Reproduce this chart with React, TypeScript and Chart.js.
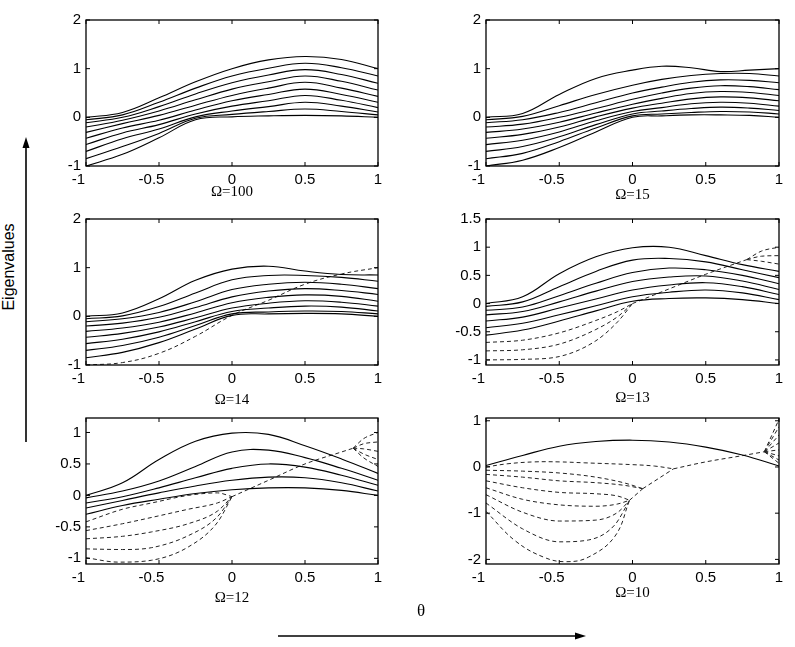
import React, { useEffect, useRef } from "react";
import { Chart, registerables } from "chart.js";

Chart.register(...registerables);

type Pt = [number, number];

// ---------- data ----------
const THETA = [-1, -0.75, -0.5, -0.25, 0, 0.25, 0.5, 0.75, 1];
const THETA_15 = [-1, -0.75, -0.5, -0.25, 0, 0.2, 0.4, 0.6, 0.8, 1];
const X_TICKS = [-1, -0.5, 0, 0.5, 1];
const Y_TICKS_WIDE = [-1, 0, 1, 2];
const Y_TICKS_13 = [-1, -0.5, 0, 0.5, 1, 1.5];
const Y_TICKS_12 = [-1, -0.5, 0, 0.5, 1];
const Y_TICKS_10 = [-2, -1, 0, 1];

// Omega = 100 (all solid, on THETA)
const SOLID_100 = [
  [0, 0.1, 0.4, 0.73, 1.0, 1.18, 1.25, 1.19, 1.0],
  [-0.05, 0.05, 0.31, 0.6, 0.85, 1.01, 1.11, 1.02, 0.85],
  [-0.11, 0.0, 0.22, 0.48, 0.71, 0.87, 0.98, 0.88, 0.7],
  [-0.2, -0.06, 0.13, 0.36, 0.58, 0.73, 0.85, 0.74, 0.56],
  [-0.31, -0.13, 0.04, 0.25, 0.45, 0.6, 0.72, 0.6, 0.43],
  [-0.43, -0.22, -0.06, 0.15, 0.34, 0.47, 0.58, 0.47, 0.31],
  [-0.56, -0.32, -0.15, 0.07, 0.23, 0.34, 0.45, 0.35, 0.2],
  [-0.7, -0.44, -0.24, 0.01, 0.13, 0.22, 0.31, 0.23, 0.11],
  [-0.85, -0.6, -0.33, -0.02, 0.06, 0.12, 0.17, 0.12, 0.05],
  [-1.0, -0.76, -0.42, -0.05, 0.01, 0.03, 0.04, 0.03, 0.0],
];

// Omega = 15 (all solid, on THETA_15)
const SOLID_15 = [
  [0, 0.08, 0.47, 0.8, 0.97, 1.05, 1.02, 0.94, 0.97, 1.0],
  [-0.05, 0.02, 0.24, 0.47, 0.66, 0.78, 0.86, 0.9, 0.9, 0.85],
  [-0.11, -0.05, 0.1, 0.3, 0.5, 0.62, 0.72, 0.77, 0.76, 0.71],
  [-0.2, -0.14, 0.0, 0.18, 0.37, 0.5, 0.6, 0.65, 0.63, 0.57],
  [-0.31, -0.24, -0.1, 0.09, 0.27, 0.39, 0.49, 0.53, 0.51, 0.45],
  [-0.43, -0.35, -0.2, 0.01, 0.19, 0.29, 0.38, 0.42, 0.4, 0.34],
  [-0.56, -0.47, -0.3, -0.07, 0.12, 0.2, 0.28, 0.31, 0.29, 0.23],
  [-0.7, -0.6, -0.4, -0.15, 0.07, 0.13, 0.18, 0.21, 0.19, 0.14],
  [-0.85, -0.74, -0.5, -0.22, 0.03, 0.07, 0.1, 0.12, 0.11, 0.07],
  [-1.0, -0.88, -0.62, -0.3, 0.0, 0.03, 0.05, 0.05, 0.04, 0.0],
];

// Omega = 14 (solid on THETA, one dashed branch)
const SOLID_14 = [
  [0, 0.07, 0.36, 0.74, 0.97, 1.03, 0.93, 0.86, 0.85],
  [-0.05, 0.01, 0.2, 0.48, 0.75, 0.84, 0.84, 0.8, 0.72],
  [-0.11, -0.05, 0.08, 0.3, 0.55, 0.66, 0.7, 0.66, 0.57],
  [-0.2, -0.14, -0.02, 0.18, 0.4, 0.52, 0.57, 0.53, 0.45],
  [-0.31, -0.24, -0.12, 0.07, 0.28, 0.39, 0.44, 0.41, 0.31],
  [-0.43, -0.35, -0.22, -0.03, 0.17, 0.27, 0.32, 0.29, 0.21],
  [-0.56, -0.47, -0.32, -0.11, 0.1, 0.17, 0.21, 0.19, 0.11],
  [-0.7, -0.6, -0.43, -0.19, 0.05, 0.09, 0.11, 0.1, 0.05],
  [-0.85, -0.74, -0.54, -0.26, 0.02, 0.05, 0.06, 0.05, 0.0],
];
const DASHED_14: Pt[][] = [
  [[-1, -1.0], [-0.75, -0.95], [-0.5, -0.76], [-0.25, -0.41], [0, 0.02], [0.25, 0.33], [0.5, 0.66], [0.75, 0.87], [1, 1.0]],
];

// Omega = 13
const SOLID_13 = [
  [0, 0.12, 0.53, 0.83, 0.99, 1.0, 0.85, 0.69, 0.57],
  [-0.05, 0.03, 0.3, 0.57, 0.77, 0.8, 0.74, 0.6, 0.46],
  [-0.12, -0.06, 0.14, 0.36, 0.55, 0.63, 0.6, 0.5, 0.35],
  [-0.2, -0.14, 0.03, 0.22, 0.39, 0.47, 0.49, 0.4, 0.25],
  [-0.31, -0.24, -0.08, 0.08, 0.24, 0.33, 0.37, 0.3, 0.16],
  [-0.43, -0.35, -0.2, -0.04, 0.12, 0.2, 0.24, 0.19, 0.07],
  [-0.56, -0.47, -0.31, -0.13, 0.04, 0.09, 0.1, 0.07, 0.0],
];
const DASHED_13: Pt[][] = [
  [[-1, -0.69], [-0.75, -0.65], [-0.5, -0.52], [-0.25, -0.3], [-0.1, -0.14], [0, 0.0]],
  [[-1, -0.84], [-0.75, -0.82], [-0.5, -0.72], [-0.25, -0.46], [-0.1, -0.23], [0, 0.0]],
  [[-1, -1.0], [-0.75, -0.99], [-0.5, -0.94], [-0.25, -0.66], [-0.1, -0.32], [0, 0.0]],
  [[0, 0.0], [0.25, 0.26], [0.5, 0.52], [0.78, 0.78]],
  [[0.78, 0.78], [0.88, 0.93], [1, 1.0]],
  [[0.78, 0.78], [0.88, 0.84], [1, 0.85]],
  [[0.78, 0.78], [0.88, 0.75], [1, 0.7]],
];

// Omega = 12
const SOLID_12 = [
  [0, 0.2, 0.57, 0.86, 0.99, 0.97, 0.79, 0.58, 0.35],
  [-0.04, 0.07, 0.23, 0.46, 0.69, 0.72, 0.6, 0.43, 0.24],
  [-0.12, -0.02, 0.12, 0.28, 0.43, 0.5, 0.45, 0.32, 0.16],
  [-0.2, -0.08, 0.04, 0.15, 0.24, 0.29, 0.28, 0.2, 0.07],
  [-0.3, -0.16, -0.06, 0.03, 0.09, 0.12, 0.12, 0.08, 0.0],
];
const DASHED_12: Pt[][] = [
  [[-1, -0.42], [-0.75, -0.22], [-0.55, -0.12], [-0.3, 0.0], [-0.1, 0.04], [0, -0.02]],
  [[-1, -0.56], [-0.75, -0.45], [-0.55, -0.35], [-0.3, -0.22], [-0.1, -0.12], [0, -0.02]],
  [[-1, -0.69], [-0.75, -0.65], [-0.55, -0.58], [-0.3, -0.45], [-0.1, -0.25], [0, -0.02]],
  [[-1, -0.85], [-0.75, -0.86], [-0.55, -0.83], [-0.3, -0.64], [-0.1, -0.34], [0, -0.02]],
  [[-1, -0.99], [-0.78, -1.06], [-0.55, -1.03], [-0.3, -0.82], [-0.1, -0.43], [0, -0.02]],
  [[0, -0.02], [0.25, 0.24], [0.5, 0.5], [0.75, 0.69], [0.83, 0.75]],
  [[0.83, 0.75], [0.9, 0.9], [1, 1.0]],
  [[0.83, 0.75], [0.9, 0.82], [1, 0.85]],
  [[0.83, 0.75], [0.9, 0.74], [1, 0.7]],
  [[0.83, 0.75], [0.9, 0.66], [1, 0.57]],
  [[0.83, 0.75], [0.9, 0.6], [1, 0.46]],
];

// Omega = 10
const SOLID_10 = [
  [0.03, 0.25, 0.45, 0.55, 0.58, 0.54, 0.43, 0.26, 0.02],
];
const DASHED_10: Pt[][] = [
  [[-1, 0.0], [-0.85, 0.07], [-0.67, 0.11], [-0.5, 0.11], [-0.33, 0.09], [0, 0.05], [0.15, 0.02], [0.28, -0.04]],
  [[-1, -0.07], [-0.75, -0.09], [-0.5, -0.13], [-0.25, -0.22], [-0.05, -0.35], [0.07, -0.47]],
  [[-1, -0.16], [-0.75, -0.22], [-0.5, -0.3], [-0.25, -0.34], [-0.05, -0.4], [0.07, -0.47]],
  [[-1, -0.3], [-0.75, -0.45], [-0.5, -0.55], [-0.25, -0.58], [-0.1, -0.63], [-0.02, -0.72]],
  [[-1, -0.45], [-0.75, -0.7], [-0.5, -0.82], [-0.25, -0.85], [-0.1, -0.8], [-0.02, -0.72]],
  [[-1, -0.6], [-0.75, -0.98], [-0.5, -1.17], [-0.25, -1.15], [-0.1, -0.98], [-0.02, -0.72]],
  [[-1, -0.78], [-0.75, -1.34], [-0.5, -1.62], [-0.3, -1.58], [-0.12, -1.25], [-0.02, -0.72]],
  [[-1, -0.96], [-0.8, -1.6], [-0.6, -1.96], [-0.45, -2.05], [-0.3, -1.95], [-0.12, -1.5], [-0.02, -0.72]],
  [[-0.02, -0.72], [0.07, -0.47]],
  [[0.07, -0.47], [0.28, -0.04]],
  [[0.28, -0.04], [0.5, 0.11], [0.74, 0.24], [0.9, 0.33]],
  [[0.9, 0.33], [1, 1.03]],
  [[0.9, 0.33], [1, 0.87]],
  [[0.9, 0.33], [1, 0.69]],
  [[0.9, 0.33], [1, 0.52]],
  [[0.9, 0.33], [1, 0.37]],
  [[0.9, 0.33], [1, 0.24]],
  [[0.9, 0.33], [1, 0.15]],
  [[0.9, 0.33], [1, 0.08]],
];

const TITLES = ["Ω=100", "Ω=15", "Ω=14", "Ω=13", "Ω=12", "Ω=10"];

// ---------- panel definitions ----------
type Panel = {
  title: string;
  theta: number[];
  solid: number[][];
  dashed: Pt[][];
  yMin: number;
  yMax: number;
  yTicks: number[];
};

const PANELS: Panel[] = [
  { title: TITLES[0], theta: THETA, solid: SOLID_100, dashed: [], yMin: -1, yMax: 2, yTicks: Y_TICKS_WIDE },
  { title: TITLES[1], theta: THETA_15, solid: SOLID_15, dashed: [], yMin: -1, yMax: 2, yTicks: Y_TICKS_WIDE },
  { title: TITLES[2], theta: THETA, solid: SOLID_14, dashed: DASHED_14, yMin: -1, yMax: 2, yTicks: Y_TICKS_WIDE },
  { title: TITLES[3], theta: THETA, solid: SOLID_13, dashed: DASHED_13, yMin: -1.09, yMax: 1.5, yTicks: Y_TICKS_13 },
  { title: TITLES[4], theta: THETA, solid: SOLID_12, dashed: DASHED_12, yMin: -1.09, yMax: 1.23, yTicks: Y_TICKS_12 },
  { title: TITLES[5], theta: THETA, solid: SOLID_10, dashed: DASHED_10, yMin: -2.1, yMax: 1.06, yTicks: Y_TICKS_10 },
];

// frame boxes (plot-area) in page pixels
const LAYOUT = [
  { l: 86, t: 16, r: 378, b: 166, titleY: 191 },
  { l: 486, t: 16, r: 779, b: 166, titleY: 194 },
  { l: 86, t: 215, r: 378, b: 365, titleY: 399 },
  { l: 486, t: 215, r: 779, b: 365, titleY: 397 },
  { l: 86, t: 414, r: 378, b: 564, titleY: 597 },
  { l: 486, t: 414, r: 779, b: 564, titleY: 592 },
];

const AX_W = 44;
const AX_H = 30;
const PAD_T = 10;
const PAD_R = 14;
const SANS = '"Liberation Sans", Arial, Helvetica, sans-serif';
const SERIF = '"Liberation Serif", "Times New Roman", Times, serif';

const fmt = (v: number) => String(Math.round(v * 100) / 100);
// MATLAB-style: negative x labels sit slightly left of their tick
const fmtX = (v: number) => (v < 0 ? fmt(v) + "\u2003" : fmt(v));

const framePlugin = {
  id: "matlabFrame",
  afterDatasetsDraw(chart: any) {
    const { ctx, chartArea: a, scales } = chart;
    const x = scales.x;
    const y = scales.y;
    ctx.save();
    ctx.strokeStyle = "#000";
    ctx.lineWidth = 1.3;
    ctx.strokeRect(a.left, a.top, a.right - a.left, a.bottom - a.top);
    const tl = 4;
    ctx.lineWidth = 1;
    ctx.beginPath();
    x.ticks.forEach((t: any) => {
      const px = x.getPixelForValue(t.value);
      ctx.moveTo(px, a.bottom);
      ctx.lineTo(px, a.bottom - tl);
      ctx.moveTo(px, a.top);
      ctx.lineTo(px, a.top + tl);
    });
    y.ticks.forEach((t: any) => {
      const py = y.getPixelForValue(t.value);
      ctx.moveTo(a.left, py);
      ctx.lineTo(a.left + tl, py);
      ctx.moveTo(a.right, py);
      ctx.lineTo(a.right - tl, py);
    });
    ctx.stroke();
    ctx.restore();
  },
};

function PanelChart({ p, box }: { p: Panel; box: { l: number; t: number; r: number; b: number } }) {
  const ref = useRef<HTMLCanvasElement>(null);
  const w = box.r - box.l + AX_W + PAD_R;
  const h = box.b - box.t + PAD_T + AX_H;

  useEffect(() => {
    if (!ref.current) return;
    const datasets: any[] = [];
    p.solid.forEach((curve) => {
      datasets.push({
        data: curve.map((v, i) => ({ x: p.theta[i], y: v })),
        showLine: true,
        borderColor: "#000",
        borderWidth: 1.1,
        pointRadius: 0,
        fill: false,
        tension: 0.4,
      });
    });
    p.dashed.forEach((seg) => {
      const full = seg.length > 6;
      datasets.push({
        data: seg.map(([x, y]) => ({ x, y })),
        showLine: true,
        borderColor: "#222",
        borderWidth: 1,
        borderDash: [4, 3],
        pointRadius: 0,
        fill: false,
        ...(full ? { tension: 0.4 } : { cubicInterpolationMode: "monotone" }),
      });
    });

    const chart = new Chart(ref.current, {
      type: "scatter",
      data: { datasets },
      options: {
        animation: false,
        responsive: false,
        maintainAspectRatio: false,
        events: [],
        layout: { padding: { top: PAD_T, right: PAD_R, left: 0, bottom: 0 } },
        plugins: { legend: { display: false }, tooltip: { enabled: false } },
        scales: {
          x: {
            type: "linear",
            min: -1,
            max: 1,
            afterBuildTicks: (s: any) => {
              s.ticks = X_TICKS.map((v) => ({ value: v }));
            },
            afterFit: (s: any) => {
              s.height = AX_H;
            },
            grid: { display: false, drawTicks: false },
            border: { display: false },
            ticks: {
              autoSkip: false,
              maxRotation: 0,
              padding: 5,
              color: "#000",
              font: { size: 15, family: SANS },
              callback: (v: any) => fmtX(Number(v)),
            },
          },
          y: {
            type: "linear",
            min: p.yMin,
            max: p.yMax,
            afterBuildTicks: (s: any) => {
              s.ticks = p.yTicks.map((v) => ({ value: v }));
            },
            afterFit: (s: any) => {
              s.width = AX_W;
            },
            grid: { display: false, drawTicks: false },
            border: { display: false },
            ticks: {
              autoSkip: false,
              padding: 5,
              color: "#000",
              font: { size: 15, family: SANS },
              callback: (v: any) => fmt(Number(v)),
            },
          },
        },
      },
      plugins: [framePlugin],
    } as any);
    return () => chart.destroy();
  }, []);

  return (
    <canvas
      ref={ref}
      width={w}
      height={h}
      style={{ position: "absolute", left: box.l - AX_W, top: box.t - PAD_T, width: w, height: h }}
    />
  );
}

export default function App() {
  return (
    <div
      style={{
        position: "absolute",
        left: 0,
        top: 0,
        width: 795,
        height: 647,
        background: "#fff",
        overflow: "hidden",
      }}
    >
      {PANELS.map((p, i) => (
        <PanelChart key={i} p={p} box={LAYOUT[i]} />
      ))}
      {PANELS.map((p, i) => {
        const b = LAYOUT[i];
        return (
          <div
            key={"t" + i}
            style={{
              position: "absolute",
              left: (b.l + b.r) / 2,
              top: b.titleY,
              transform: "translate(-50%, -50%)",
              fontFamily: SERIF,
              fontSize: 15,
              color: "#000",
              whiteSpace: "nowrap",
            }}
          >
            {p.title}
          </div>
        );
      })}
      <div
        style={{
          position: "absolute",
          left: 9,
          top: 267,
          transform: "translate(-50%, -50%) rotate(-90deg)",
          fontFamily: SANS,
          fontSize: 16,
          color: "#000",
          whiteSpace: "nowrap",
        }}
      >
        Eigenvalues
      </div>
      <div
        style={{
          position: "absolute",
          left: 421,
          top: 611,
          transform: "translate(-50%, -50%)",
          fontFamily: SERIF,
          fontSize: 17,
          color: "#000",
        }}
      >
        θ
      </div>
      <svg width={795} height={647} style={{ position: "absolute", left: 0, top: 0, pointerEvents: "none" }}>
        <line x1={26} y1={442} x2={26} y2={147} stroke="#000" strokeWidth={1.6} />
        <polygon points="26,137 22.5,148 29.5,148" fill="#000" />
        <line x1={278} y1={636} x2={576} y2={636} stroke="#000" strokeWidth={1.6} />
        <polygon points="586,636 575,632.5 575,639.5" fill="#000" />
      </svg>
    </div>
  );
}
